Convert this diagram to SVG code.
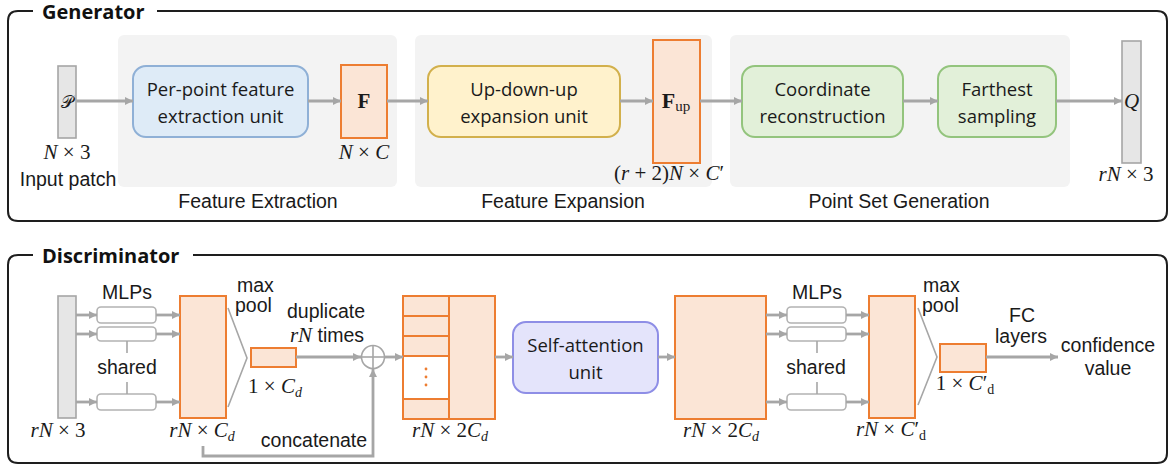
<svg xmlns="http://www.w3.org/2000/svg" width="1169" height="467" viewBox="0 0 1169 467">
  <defs>
    <marker id="ah" viewBox="0 0 10 10" refX="10" refY="5" markerWidth="9" markerHeight="8" markerUnits="userSpaceOnUse" orient="auto">
      <path d="M0,0 L10,5 L0,10 z" fill="#a6a6a6"/>
    </marker>
    <style>
      .frame{fill:none;stroke:#1e1e1e;stroke-width:2}
      .title{font-family:"Open Sans","Noto Sans",sans-serif;font-weight:bold;font-size:20px;fill:#111}
      .panel{fill:#f3f3f3}
      .lbl{font-family:"Liberation Sans",Arial,sans-serif;font-size:19.5px;fill:#1a1a1a}
      .unit{font-family:"Open Sans","Noto Sans",sans-serif;font-size:18.5px;fill:#1a1a1a}
      .math{font-family:"Liberation Serif","Times New Roman",serif;font-size:21px;fill:#1a1a1a}
      .it{font-style:italic}
      .sub{font-size:14px}
      .arrow{fill:none;stroke:#a6a6a6;stroke-width:2.8;marker-end:url(#ah)}
      .thin{fill:none;stroke:#a6a6a6;stroke-width:1.6}
      .bar{fill:#e6e6e6;stroke:#a6a6a6;stroke-width:1.6}
      .feat{fill:#fbe5d6;stroke:#ed7d31;stroke-width:2}
      .grid{stroke:#ed7d31;stroke-width:2}
      .mlp{fill:#fff;stroke:#b3b3b3;stroke-width:1.6}
      .blue{fill:#deebf7;stroke:#8fb0d6;stroke-width:2}
      .yellow{fill:#fff2cc;stroke:#d2b04c;stroke-width:2}
      .green{fill:#e2f0d9;stroke:#93c47d;stroke-width:2}
      .lav{fill:#e4e4fb;stroke:#8e8ee6;stroke-width:2}
    </style>
  </defs>

  <!-- ================= Generator ================= -->
  <g id="generator-frame">
    <path class="frame" d="M33,11 H18 Q8,11 8,21 V211 Q8,221 18,221 H1157 Q1167,221 1167,211 V21 Q1167,11 1157,11 H157"/>
    <text class="title" x="42" y="19">Generator</text>
  </g>

  <g id="stage-panels">
    <rect class="panel" x="118" y="35" width="279" height="152" rx="6"/>
    <rect class="panel" x="415" y="35" width="297" height="152" rx="6"/>
    <rect class="panel" x="730" y="35" width="340" height="152" rx="6"/>
    <text class="lbl" x="258" y="208" text-anchor="middle">Feature Extraction</text>
    <text class="lbl" x="563" y="208" text-anchor="middle">Feature Expansion</text>
    <text class="lbl" x="899" y="208" text-anchor="middle">Point Set Generation</text>
  </g>

  <g id="input-patch">
    <rect class="bar" x="58" y="66" width="18" height="72"/>
    <text x="67" y="108" text-anchor="middle" font-family="'DejaVu Serif','DejaVu Sans',serif" font-size="17" fill="#1a1a1a">𝒫</text>
    <text class="math" x="67" y="159" text-anchor="middle"><tspan class="it">N</tspan> × 3</text>
    <text class="lbl" x="68" y="186" text-anchor="middle">Input patch</text>
  </g>

  <g id="feature-extraction-unit">
    <rect class="blue" x="133" y="66" width="175" height="71" rx="13"/>
    <text class="unit" x="220.5" y="96" text-anchor="middle">Per-point feature</text>
    <text class="unit" x="220.5" y="123" text-anchor="middle">extraction unit</text>
  </g>

  <g id="feature-F">
    <rect class="feat" x="341" y="65" width="46" height="73"/>
    <text class="math" x="364" y="108" text-anchor="middle" font-weight="bold" font-size="22">F</text>
    <text class="math" x="364" y="159" text-anchor="middle"><tspan class="it">N</tspan> × <tspan class="it">C</tspan></text>
  </g>

  <g id="expansion-unit">
    <rect class="yellow" x="428" y="66" width="192" height="71" rx="13"/>
    <text class="unit" x="524" y="96" text-anchor="middle">Up-down-up</text>
    <text class="unit" x="524" y="123" text-anchor="middle">expansion unit</text>
  </g>

  <g id="feature-Fup">
    <rect class="feat" x="653" y="40" width="47" height="123"/>
    <text class="math" x="676" y="108" text-anchor="middle"><tspan font-weight="bold" font-size="22">F</tspan><tspan font-size="15" dy="3">up</tspan></text>
    <text class="math" x="669" y="180" text-anchor="middle">(<tspan class="it">r</tspan> + 2)<tspan class="it">N</tspan> × <tspan class="it">C</tspan>′</text>
  </g>

  <g id="coordinate-reconstruction">
    <rect class="green" x="742" y="66" width="161" height="71" rx="13"/>
    <text class="unit" x="822.5" y="96" text-anchor="middle">Coordinate</text>
    <text class="unit" x="822.5" y="123" text-anchor="middle">reconstruction</text>
  </g>

  <g id="farthest-sampling">
    <rect class="green" x="938" y="66" width="118" height="71" rx="13"/>
    <text class="unit" x="997" y="96" text-anchor="middle">Farthest</text>
    <text class="unit" x="997" y="123" text-anchor="middle">sampling</text>
  </g>

  <g id="output-Q">
    <rect class="bar" x="1122" y="41" width="19" height="122"/>
    <text class="math it" x="1131.5" y="108" text-anchor="middle" font-size="18">Q</text>
    <text class="math" x="1126" y="181" text-anchor="middle"><tspan class="it">rN</tspan> × 3</text>
  </g>

  <!-- ================= Discriminator ================= -->
  <g id="discriminator-frame">
    <path class="frame" d="M33,255 H18 Q8,255 8,265 V453 Q8,463 18,463 H1157 Q1167,463 1167,453 V265 Q1167,255 1157,255 H193"/>
    <text class="title" x="42" y="263">Discriminator</text>
  </g>

  <g id="disc-input">
    <rect class="bar" x="58" y="296" width="18" height="122"/>
    <text class="math" x="58" y="437" text-anchor="middle"><tspan class="it">rN</tspan> × 3</text>
  </g>

  <g id="mlp-1">
    <text class="lbl" x="127" y="299" text-anchor="middle">MLPs</text>
    <rect class="mlp" x="97" y="307" width="59" height="16" rx="4"/>
    <rect class="mlp" x="97" y="327" width="59" height="14" rx="4"/>
    <rect class="mlp" x="97" y="394" width="59" height="16" rx="4"/>
    <line class="thin" x1="127" y1="341" x2="127" y2="353"/>
    <line class="thin" x1="127" y1="382" x2="127" y2="394"/>
    <text class="lbl" x="127" y="374" text-anchor="middle">shared</text>
  </g>

  <g id="point-features">
    <rect class="feat" x="180" y="296" width="46" height="122"/>
    <text class="math" x="202" y="437" text-anchor="middle"><tspan class="it">rN</tspan> × <tspan class="it">C</tspan><tspan class="it sub" dy="4">d</tspan></text>
  </g>

  <g id="maxpool-1">
    <polyline class="thin" points="228,308 247,358 228,407"/>
    <text class="lbl" x="237" y="292">max</text>
    <text class="lbl" x="235" y="312">pool</text>
  </g>

  <g id="global-feature">
    <rect class="feat" x="251" y="348" width="45" height="19"/>
    <text class="math" x="275" y="393" text-anchor="middle">1 × <tspan class="it">C</tspan><tspan class="it sub" dy="4">d</tspan></text>
    <text class="lbl" x="326" y="318" text-anchor="middle">duplicate</text>
    <text class="lbl" x="327" y="342" text-anchor="middle"><tspan class="math it" font-size="20">rN</tspan> times</text>
  </g>

  <g id="concat-op">
    <circle cx="373" cy="357" r="11.5" fill="#fff" stroke="#a6a6a6" stroke-width="1.6"/>
    <line class="thin" x1="361.5" y1="357" x2="384.5" y2="357"/>
    <line class="thin" x1="373" y1="345.5" x2="373" y2="368.5"/>
    <text class="lbl" x="314" y="447" text-anchor="middle">concatenate</text>
  </g>

  <g id="concat-features">
    <rect class="feat" x="403" y="296" width="92" height="123"/>
    <rect x="404" y="356" width="45" height="43" fill="#fff"/>
    <line class="grid" x1="449" y1="296" x2="449" y2="419"/>
    <line class="grid" x1="403" y1="316" x2="449" y2="316"/>
    <line class="grid" x1="403" y1="336" x2="449" y2="336"/>
    <line class="grid" x1="403" y1="356" x2="449" y2="356"/>
    <line class="grid" x1="403" y1="399" x2="449" y2="399"/>
    <circle cx="426" cy="369" r="1.4" fill="#ed7d31"/>
    <circle cx="426" cy="377" r="1.4" fill="#ed7d31"/>
    <circle cx="426" cy="385" r="1.4" fill="#ed7d31"/>
    <text class="math" x="450" y="437" text-anchor="middle"><tspan class="it">rN</tspan> × 2<tspan class="it">C</tspan><tspan class="it sub" dy="4">d</tspan></text>
  </g>

  <g id="self-attention-unit">
    <rect class="lav" x="513" y="322" width="145" height="71" rx="13"/>
    <text class="unit" x="585.5" y="352" text-anchor="middle">Self-attention</text>
    <text class="unit" x="585.5" y="379" text-anchor="middle">unit</text>
  </g>

  <g id="attended-features">
    <rect class="feat" x="675" y="296" width="91" height="123"/>
    <text class="math" x="721" y="437" text-anchor="middle"><tspan class="it">rN</tspan> × 2<tspan class="it">C</tspan><tspan class="it sub" dy="4">d</tspan></text>
  </g>

  <g id="mlp-2">
    <text class="lbl" x="817" y="299" text-anchor="middle">MLPs</text>
    <rect class="mlp" x="787" y="307" width="59" height="16" rx="4"/>
    <rect class="mlp" x="787" y="327" width="59" height="14" rx="4"/>
    <rect class="mlp" x="787" y="394" width="59" height="16" rx="4"/>
    <line class="thin" x1="817" y1="341" x2="817" y2="353"/>
    <line class="thin" x1="817" y1="382" x2="817" y2="394"/>
    <text class="lbl" x="816" y="374" text-anchor="middle">shared</text>
  </g>

  <g id="point-features-2">
    <rect class="feat" x="869" y="296" width="46" height="122"/>
    <text class="math" x="891" y="436" text-anchor="middle"><tspan class="it">rN</tspan> × <tspan class="it">C</tspan>′<tspan class="sub" dy="4">d</tspan></text>
  </g>

  <g id="maxpool-2">
    <polyline class="thin" points="918,308 937,357 918,405"/>
    <text class="lbl" x="923" y="292">max</text>
    <text class="lbl" x="922" y="312">pool</text>
  </g>

  <g id="global-feature-2">
    <rect class="feat" x="940" y="344" width="46" height="28"/>
    <text class="math" x="965" y="390" text-anchor="middle">1 × <tspan class="it">C</tspan>′<tspan class="sub" dy="4">d</tspan></text>
  </g>

  <g id="fc-output">
    <text class="lbl" x="1022" y="322" text-anchor="middle">FC</text>
    <text class="lbl" x="1021" y="343" text-anchor="middle">layers</text>
    <text class="lbl" x="1108" y="352" text-anchor="middle">confidence</text>
    <text class="lbl" x="1108" y="375" text-anchor="middle">value</text>
  </g>

  <!-- ================= Connectors ================= -->
  <g id="connectors">
    <!-- generator pipeline -->
    <line class="arrow" x1="76" y1="101" x2="133" y2="101"/>
    <line class="arrow" x1="308" y1="101" x2="341" y2="101"/>
    <line class="arrow" x1="387" y1="101" x2="428" y2="101"/>
    <line class="arrow" x1="620" y1="101" x2="653" y2="101"/>
    <line class="arrow" x1="700" y1="101" x2="742" y2="101"/>
    <line class="arrow" x1="903" y1="101" x2="938" y2="101"/>
    <line class="arrow" x1="1056" y1="101" x2="1122" y2="101"/>

    <!-- discriminator: input to shared MLPs -->
    <line class="arrow" x1="76" y1="315" x2="97" y2="315"/>
    <line class="arrow" x1="76" y1="334" x2="97" y2="334"/>
    <line class="arrow" x1="76" y1="402" x2="97" y2="402"/>
    <line class="arrow" x1="156" y1="315" x2="180" y2="315"/>
    <line class="arrow" x1="156" y1="334" x2="180" y2="334"/>
    <line class="arrow" x1="156" y1="402" x2="180" y2="402"/>

    <!-- global feature duplicated and concatenated -->
    <line class="arrow" x1="296" y1="357" x2="361" y2="357"/>
    <polyline class="arrow" points="203,446 203,456 373,456 373,369"/>
    <line class="arrow" x1="385" y1="357" x2="403" y2="357"/>
    <line class="arrow" x1="495" y1="357" x2="513" y2="357"/>
    <line class="arrow" x1="658" y1="357" x2="675" y2="357"/>

    <!-- second shared MLPs -->
    <line class="arrow" x1="766" y1="315" x2="787" y2="315"/>
    <line class="arrow" x1="766" y1="334" x2="787" y2="334"/>
    <line class="arrow" x1="766" y1="402" x2="787" y2="402"/>
    <line class="arrow" x1="846" y1="315" x2="869" y2="315"/>
    <line class="arrow" x1="846" y1="334" x2="869" y2="334"/>
    <line class="arrow" x1="846" y1="402" x2="869" y2="402"/>

    <!-- FC layers -->
    <line class="arrow" x1="986" y1="357" x2="1058" y2="357"/>
  </g>
</svg>
